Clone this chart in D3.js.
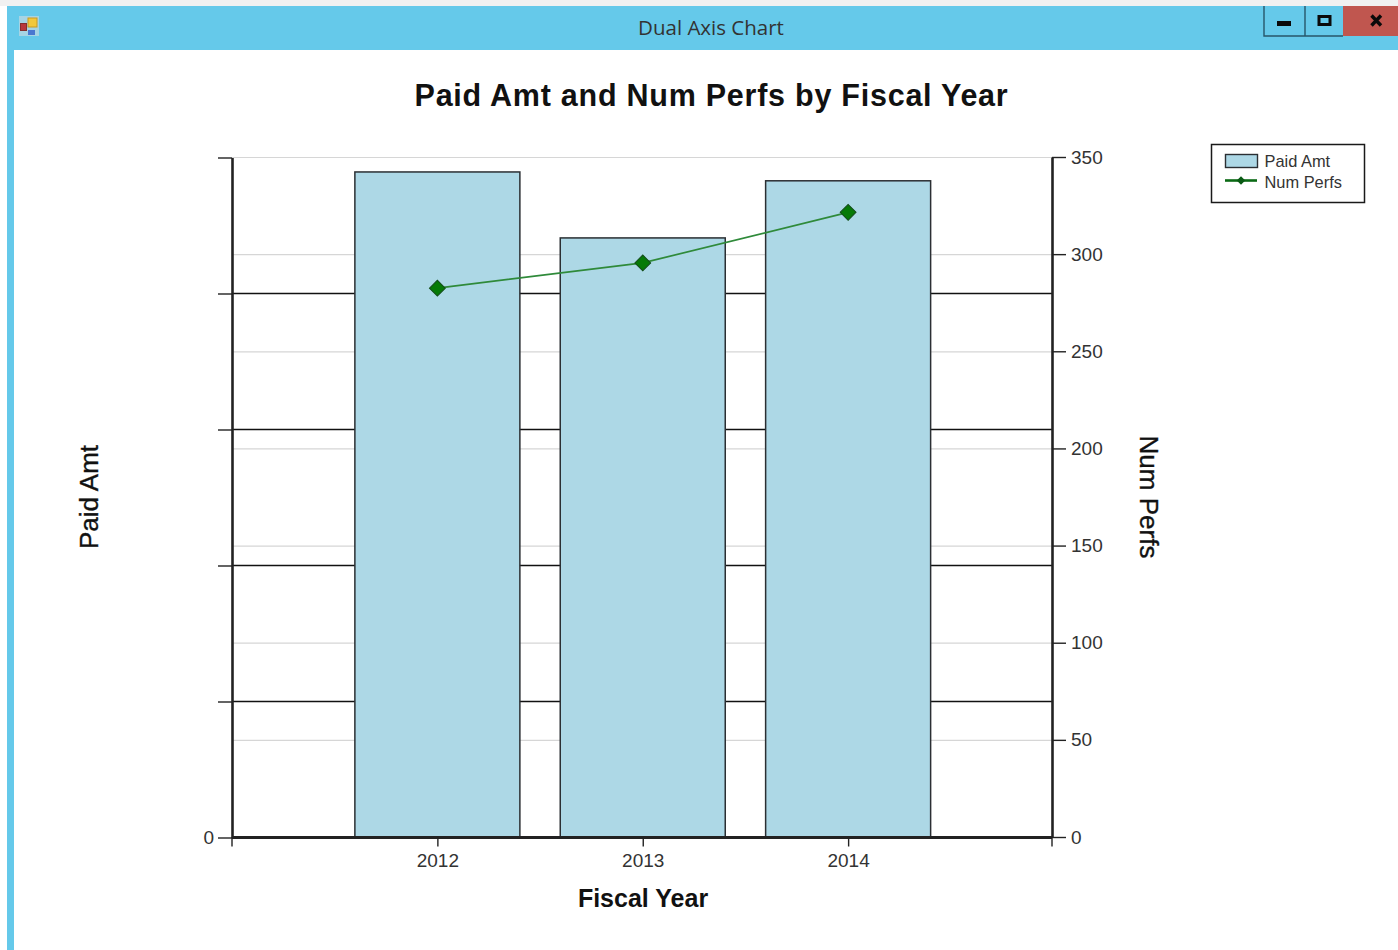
<!DOCTYPE html>
<html><head><meta charset="utf-8">
<script src="https://cdn.jsdelivr.net/npm/d3@7/dist/d3.min.js"></script>
<style>
html,body{margin:0;padding:0;background:#fff;overflow:hidden}
svg{display:block}
text{font-family:"Liberation Sans",Arial,sans-serif;fill:#222}
</style></head><body>
<svg id="c" width="1398" height="950"></svg>
<script>
const fiscalYears = ["2012","2013","2014"];
const paidAmt = [4.89,4.405,4.825];   // left axis units: its labels are blank in the source
const numPerfs = [282.5,295.5,321.5];
const leftTickValues = [0,1,2,3,4,5];
const leftTickLabels = ["0","","","","",""];
const rightTickValues = [0,50,100,150,200,250,300,350];
const titleText = "Paid Amt and Num Perfs by Fiscal Year";
const windowTitle = "Dual Axis Chart";
const seriesNames = ["Paid Amt","Num Perfs"];

const svg = d3.select("#c");
const L=232,R=1052,T=157,B=837;
const x = d3.scalePoint().domain(fiscalYears).range([L,R+1.5]).padding(1);
const yL = d3.scaleLinear().domain([0,5]).range([B,T]);
const yR = d3.scaleLinear().domain([0,350]).range([B,T]);
const barW = 165;
const GREEN="#0a7a0a", DARK="#222";

// window chrome
const rect=(x0,y0,w,h,f)=>svg.append("rect").attr("x",x0).attr("y",y0).attr("width",w).attr("height",h).attr("fill",f);
rect(7,6,1391,44,"#65c9ea");
rect(7,50,7,900,"#65c9ea");
rect(0,0,1398,6,"#f1f1f1");
rect(19,16,20,20,"#a6d4e4");
rect(28,18,9,9,"#f2c83c").attr("stroke","#c99a20");
rect(20.5,23.5,6,7,"#b8383c").attr("stroke","#84302f");
rect(28,30,7,5,"#4a78d0");
svg.append("text").attr("x",711).attr("y",35).attr("text-anchor","middle")
  .style("font-family","'Open Sans',sans-serif").style("font-size","20.5px").style("fill","#333").text(windowTitle);
rect(1343,6,55,30,"#c0564f");
svg.append("path").attr("d","M1264 6V36H1343M1305 6V36").attr("fill","none").attr("stroke","#27566a").attr("stroke-width",1.4);
rect(1277,21,14,5,"#0a0a0a");
rect(1319,16.5,11,8,"none").attr("stroke","#0a0a0a").attr("stroke-width",3);
svg.append("path").attr("d","M1371.5 15.5L1381 25.5M1381 15.5L1371.5 25.5").attr("stroke","#0a0a0a").attr("stroke-width",3.4);

// grid lines
svg.append("g").selectAll("line").data(rightTickValues.filter(d=>d>0)).join("line")
  .attr("x1",L).attr("x2",R).attr("y1",d=>yR(d)+.5).attr("y2",d=>yR(d)+.5).attr("stroke","#d6d6d6").attr("stroke-width",1.2);
svg.append("g").selectAll("line").data(leftTickValues.filter(d=>d>0&&d<5)).join("line")
  .attr("x1",L).attr("x2",R).attr("y1",d=>yL(d)+.5).attr("y2",d=>yL(d)+.5).attr("stroke","#111").attr("stroke-width",1.5);

// bars
svg.append("g").selectAll("rect").data(paidAmt).join("rect")
  .attr("x",(d,i)=>x(fiscalYears[i])-barW/2).attr("width",barW)
  .attr("y",d=>yL(d)).attr("height",d=>B-yL(d))
  .attr("fill","#add8e6").attr("stroke","#2b2f33").attr("stroke-width",1.5);

// axes
const styleAxis=(g,w)=>{g.select(".domain").attr("stroke",DARK).attr("stroke-width",w);
  g.selectAll(".tick line").attr("stroke",DARK).attr("stroke-width",1.4);
  g.selectAll("text").style("font-size","19px").style("fill","#333");};
const aL=svg.append("g").attr("transform",`translate(${L},0.5)`)
  .call(d3.axisLeft(yL).tickValues(leftTickValues).tickFormat((d,i)=>leftTickLabels[i]).tickSize(14).tickSizeOuter(0).tickPadding(4));
styleAxis(aL,2.6);
const aR=svg.append("g").attr("transform",`translate(${R},0)`)
  .call(d3.axisRight(yR).tickValues(rightTickValues).tickSize(14).tickSizeOuter(0).tickPadding(5));
styleAxis(aR,2.6);
const aB=svg.append("g").attr("transform",`translate(0,${B+0.5})`)
  .call(d3.axisBottom(x).tickSize(9).tickSizeOuter(9).tickPadding(7));
styleAxis(aB,3);
aB.select(".domain").attr("d",`M${L},0H${R}`).attr("fill","none");
aB.append("path").attr("d",`M${L},0V9M${R},0V9`).attr("stroke",DARK).attr("stroke-width",1.4);

// line series
const line=d3.line().x((d,i)=>x(fiscalYears[i])).y(d=>yR(d));
svg.append("path").datum(numPerfs).attr("d",line).attr("fill","none").attr("stroke","#2f8a3a").attr("stroke-width",1.7);
const diamond=d3.symbol().type(d3.symbolSquare).size(125);
svg.append("g").selectAll("path").data(numPerfs).join("path").attr("d",diamond)
  .attr("transform",(d,i)=>`translate(${x(fiscalYears[i])},${yR(d)}) rotate(45)`)
  .attr("fill","#067a06").attr("stroke","#134d1a").attr("stroke-width",1);

// titles
svg.append("text").attr("x",711.5).attr("y",105.5).attr("text-anchor","middle")
  .style("font-size","30.5px").style("font-weight","bold").style("letter-spacing","0.75px").style("fill","#111").text(titleText);
const at=(xx,yy,rot,t,fs)=>svg.append("text").attr("transform",`translate(${xx},${yy}) rotate(${rot})`).attr("text-anchor","middle")
  .style("font-size",fs+"px").style("font-weight",rot?"normal":"bold").style("stroke",rot?"#111":"none").style("stroke-width",.35).style("fill","#111").text(t);
at(98,497,-90,seriesNames[0],26);
at(1140,497,90,seriesNames[1],26);
at(643,907,0,"Fiscal Year",25);

// legend
rect(1211.5,144.5,153,58,"#fff").attr("stroke","#1a1a1a").attr("stroke-width",1.5);
rect(1225.5,154.5,32,13,"#add8e6").attr("stroke","#2b2f33").attr("stroke-width",1.4);
svg.append("line").attr("x1",1225).attr("x2",1257).attr("y1",180.5).attr("y2",180.5).attr("stroke","#0a6a14").attr("stroke-width",2.6);
svg.append("path").attr("d",d3.symbol().type(d3.symbolSquare).size(36)).attr("transform","translate(1241,180.5) rotate(45)").attr("fill","#0a5a14");
seriesNames.forEach((s,i)=>svg.append("text").attr("x",1264.5).attr("y",167+i*20.5)
  .style("font-size","16.4px").style("fill","#333").text(s));
</script>
</body></html>
